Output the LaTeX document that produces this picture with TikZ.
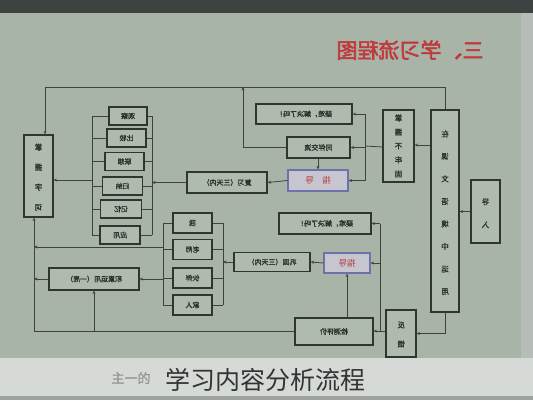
\documentclass[tikz,border=0pt]{standalone}
\usepackage{fontspec}
\usepackage{graphicx}
\newfontfamily\cjk{Noto Sans CJK SC}
\newfontfamily\cjkb[FakeBold=1.2]{Noto Sans CJK SC}
\newfontfamily\cjkt[FakeBold=2.5]{Noto Sans CJK SC}
\usetikzlibrary{arrows.meta,positioning}

\definecolor{slide}{HTML}{A9B4A9}
\definecolor{topband}{HTML}{3E4240}
\definecolor{capband}{HTML}{D6DAD6}
\definecolor{lowband}{HTML}{9CA29C}
\definecolor{rimband}{HTML}{B6BDB6}
\definecolor{boxline}{HTML}{2F352F}
\definecolor{boxfill}{HTML}{B0BBB0}
\definecolor{wire}{HTML}{3C443C}
\definecolor{ink}{HTML}{2A302A}
\definecolor{guideline}{HTML}{6E72A8}
\definecolor{guidefill}{HTML}{C6C5D0}
\definecolor{guidered}{HTML}{B83838}
\definecolor{titlered}{HTML}{C0393B}

% mirrored text, as the slide is shown flipped
\newcommand{\mir}[1]{\reflectbox{#1}}
\newcommand{\vmir}[2]{\reflectbox{\fontsize{7.5}{#1}\selectfont\begin{tabular}{@{}c@{}}#2\end{tabular}}}

\tikzset{
    block/.style={
        draw=boxline,
        fill=boxfill,
        line width=1.2pt,
        rectangle,
        inner sep=0pt,
        text=ink,
        font=\cjkb\fontsize{7}{8}\selectfont
    },
    guide/.style={
        block,
        draw=guideline,
        fill=guidefill,
        text=guidered,
        font=\cjk\fontsize{8.5}{9}\selectfont
    },
    link/.style={
        draw=wire,
        line width=0.8pt
    },
}

\begin{document}
\begin{tikzpicture}[x=1pt, y=-1pt, >={Stealth[length=3.5pt,width=3pt]}]
    \useasboundingbox (0,0) rectangle (533,400);
    % photo background
    \fill[slide] (0,0) rectangle (533,400);
    \fill[topband] (0,0) rectangle (533,13);
    \fill[rimband] (521,13) rectangle (533,358);
    \fill[capband] (0,358) rectangle (533,396);
    \fill[lowband] (0,396) rectangle (533,400);

    % title
    \node[text=titlered, font=\cjkt\fontsize{21}{22}\selectfont] (title) at (410,50) {\mir{三、学习流程图}};

    % left part
    \node[block, minimum width=29pt, minimum height=82pt] (LB) at (38.5,176) {\vmir{20pt}{掌\\握\\字\\词}};
    \node[block, minimum width=38pt, minimum height=18pt] (S1) at (128,116) {\mir{观察}};
    \node[block, minimum width=39pt, minimum height=18pt] (S2) at (126.5,138) {\mir{比较}};
    \node[block, minimum width=39pt, minimum height=18pt] (S3) at (124.5,161.5) {\mir{联想}};
    \node[block, minimum width=40pt, minimum height=18pt] (S4) at (122.5,186) {\mir{归纳}};
    \node[block, minimum width=41pt, minimum height=18pt] (S5) at (121,209) {\mir{记忆}};
    \node[block, minimum width=40pt, minimum height=18pt] (S6) at (120,235) {\mir{应用}};

    % upper middle
    \node[block, minimum width=96pt, minimum height=20pt] (F1) at (304,114) {\mir{疑难，解决了吗！}};
    \node[block, minimum width=63pt, minimum height=21pt] (T1) at (318.5,147.5) {\mir{同伴交流}};
    \node[guide, minimum width=60pt, minimum height=21pt] (G1) at (318,180.5) {\mir{指\quad 导}};
    \node[block, minimum width=80pt, minimum height=21pt] (R1) at (227,182.5) {\mir{复习（三天内）}};

    % right part
    \node[block, minimum width=31pt, minimum height=72pt] (B2) at (398.5,146) {\vmir{14pt}{掌\\握\\不\\牢\\固}};
    \node[block, minimum width=28pt, minimum height=202pt] (RT) at (445,211) {\vmir{22.5pt}{在\\课\\文\\语\\境\\中\\运\\用}};
    \node[block, minimum width=29pt, minimum height=63pt] (DR) at (485.5,211.5) {\vmir{23pt}{导\\入}};

    % lower middle
    \node[block, minimum width=92pt, minimum height=21pt] (F2) at (325,223.5) {\mir{疑难，解决了吗！}};
    \node[guide, minimum width=46pt, minimum height=20pt] (G2) at (347,263) {\mir{指导}};
    \node[block, minimum width=76pt, minimum height=19pt] (R2) at (272,262) {\mir{巩固（三天内）}};
    \node[block, minimum width=39pt, minimum height=20pt] (Q1) at (192.5,223) {\mir{我}};
    \node[block, minimum width=39pt, minimum height=20pt] (Q2) at (192.5,249.5) {\mir{老师}};
    \node[block, minimum width=39pt, minimum height=20pt] (Q3) at (192.5,278) {\mir{伙伴}};
    \node[block, minimum width=39pt, minimum height=20pt] (Q4) at (192.5,305) {\mir{家人}};
    \node[block, minimum width=90pt, minimum height=22pt] (J1) at (94,279) {\mir{积累运用（一周）}};
    \node[block, minimum width=78pt, minimum height=27pt] (C1) at (334,331.5) {\mir{检测评价}};
    \node[block, minimum width=30pt, minimum height=47pt] (FK) at (401,333.5) {\vmir{19pt}{反\\馈}};

    % caption
    \node[text=capband!70!black, font=\cjkb\fontsize{13}{14}\selectfont] (ghost) at (131,378) {主一的};
    \node[text=black!80, font=\cjk\fontsize{25}{26}\selectfont] (cap) at (265,380) {学习内容分析流程};

    % junction coordinates
    \coordinate (top) at (243,87);
    \coordinate (rb) at (152,0);
    \coordinate (lb) at (92,0);
    \coordinate (ub) at (365,0);
    \coordinate (qr) at (223,0);
    \coordinate (ql) at (163,0);
    \coordinate (vb) at (380,0);
    \coordinate (ll) at (34,326);

    % top loop
    \draw[link] (RT.north) |- (45,87) coordinate (tl);
    \draw[link,->] (tl) -- (tl |- LB.north);
    \draw[link,->] (T1.west) -| (top);

    % right side
    \draw[link,->] (DR.west) -- (DR.west -| RT.east);
    \draw[link,->] (RT.west |- 0,145) -- (B2.east |- 0,145);
    \draw[link] (B2.west |- 0,147) -- (ub |- B2.west);
    \draw[link] (ub |- F1.east) -- (ub |- G1.east);
    \draw[link,->] (ub |- F1.east) -- (F1.east);
    \draw[link,->] (ub |- T1.east) -- (T1.east);
    \draw[link,->] (ub |- G1.east) -- (G1.east);
    \draw[link,->] (T1.south -| G1.north) -- (G1.north);
    \draw[link,->] (G1.west) -- (R1.east);

    % six boxes
    \draw[link] (rb |- S1.east) -- (rb |- S6.east);
    \draw[link] (lb |- S1.west) -- (lb |- S6.west);
    \foreach \s in {S1,S2,S3,S4,S5,S6} {
        \draw[link] (\s.east) -- (rb |- \s.east);
        \draw[link] (\s.west) -- (lb |- \s.west);
    }
    \draw[link,->] (R1.west) -- (rb |- R1.west);
    \draw[link,->] (lb |- 0,180) -- (LB.east |- 0,180);

    % lower boxes
    \draw[link] (qr |- Q1.east) -- (qr |- Q4.east);
    \draw[link] (ql |- Q1.west) -- (ql |- Q4.west);
    \foreach \q in {Q1,Q2,Q3,Q4} {
        \draw[link] (\q.east) -- (qr |- \q.east);
        \draw[link] (\q.west) -- (ql |- \q.west);
    }
    \draw[link,->] (R2.west) -- (qr |- R2.west);
    \draw[link,->] (G2.west) -- (R2.east);
    \draw[link,->] (ql |- J1.east) -- (J1.east);
    \draw[link,->] (ql |- 0,247) -- (ll |- 0,247);
    \draw[link,->] (J1.west) -- (ll |- J1.west);

    % feedback
    \draw[link,->] (RT.south) |- (FK.east);
    \draw[link,->] (FK.west |- 0,331) -- (C1.east |- 0,331);
    \draw[link] (vb |- 0,331) -- (vb |- F2.east);
    \draw[link,->] (vb |- F2.east) -- (F2.east);
    \draw[link,->] (vb |- G2.east) -- (G2.east);
    \draw[link,->] (C1.north -| G2.south) -- (G2.south);

    % bottom loop
    \draw[link] (C1.west) -- (C1.west -| ll) coordinate (bl);
    \draw[link,->] (J1.south |- bl) -- (J1.south);
    \draw[link,->] (bl) -- (bl |- LB.south);
\end{tikzpicture}
\end{document}
